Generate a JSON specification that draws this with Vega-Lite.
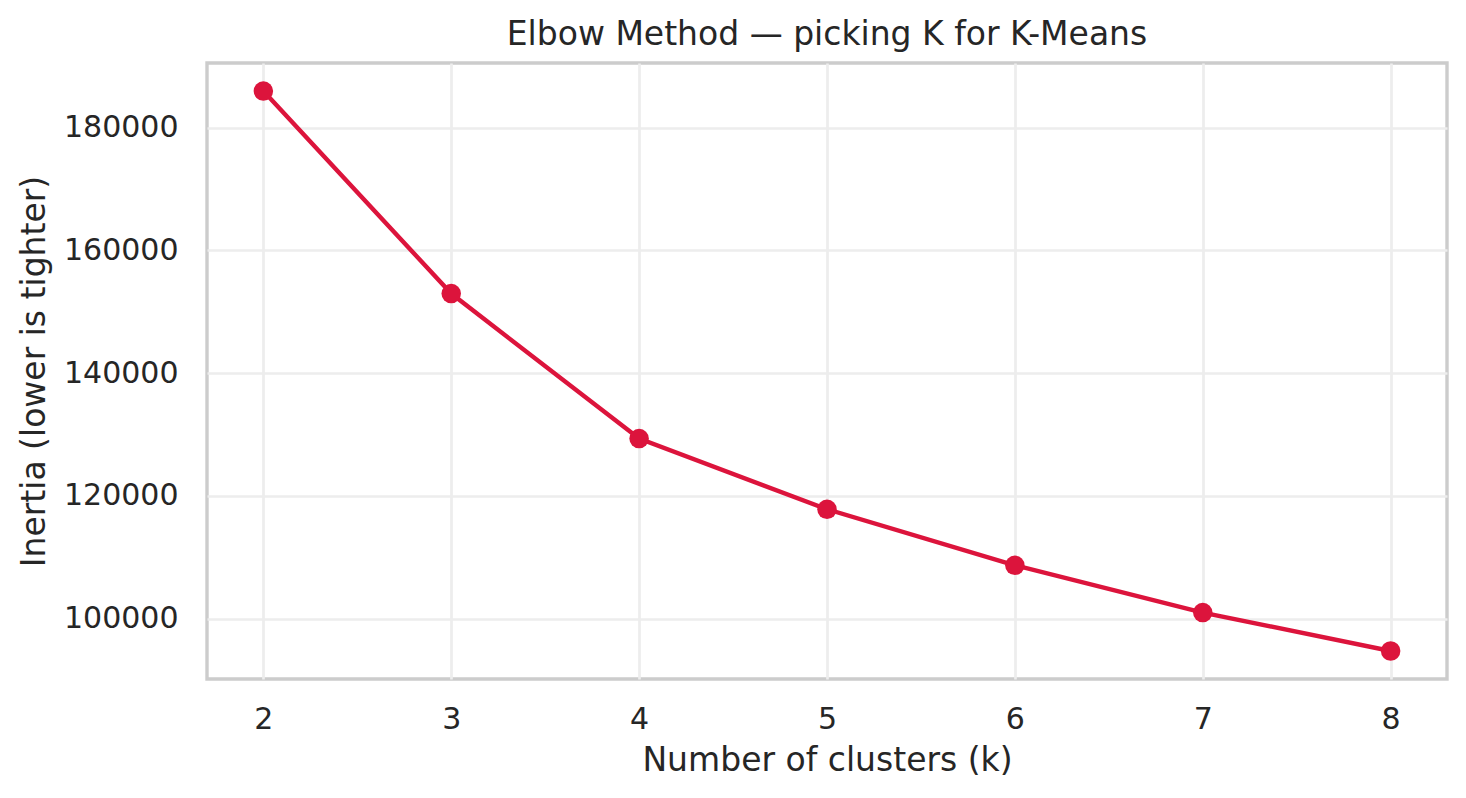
{
  "$schema": "https://vega.github.io/schema/vega-lite/v6.json",
  "width": 1240,
  "height": 616,
  "autosize": {"type": "none"},
  "padding": {"left": 207, "top": 63, "right": 19, "bottom": 119},
  "background": "white",
  "title": {
    "text": "Elbow Method — picking K for K-Means",
    "fontSize": 33,
    "fontWeight": "normal",
    "color": "#262626",
    "anchor": "middle",
    "baseline": "alphabetic",
    "offset": -15
  },
  "data": {
    "values": [
      {"k": 2, "inertia": 185960},
      {"k": 3, "inertia": 152950},
      {"k": 4, "inertia": 129330},
      {"k": 5, "inertia": 117810},
      {"k": 6, "inertia": 108680},
      {"k": 7, "inertia": 100980},
      {"k": 8, "inertia": 94720}
    ]
  },
  "encoding": {
    "x": {
      "field": "k",
      "type": "quantitative",
      "scale": {"domain": [1.7, 8.3], "nice": false, "zero": false},
      "axis": {
        "values": [2, 3, 4, 5, 6, 7, 8],
        "format": "d",
        "title": "Number of clusters (k)",
        "labelPadding": 25,
        "titlePadding": 10
      }
    },
    "y": {
      "field": "inertia",
      "type": "quantitative",
      "scale": {"domain": [90158, 190525], "nice": false, "zero": false},
      "axis": {
        "values": [100000, 120000, 140000, 160000, 180000],
        "format": "d",
        "title": "Inertia (lower is tighter)",
        "labelPadding": 29,
        "titlePadding": 12
      }
    }
  },
  "layer": [
    {"mark": {"type": "line", "color": "#DC143C", "strokeWidth": 4.4}},
    {"mark": {"type": "point", "filled": true, "color": "#DC143C", "opacity": 1, "size": 380}}
  ],
  "config": {
    "font": "DejaVu Sans",
    "view": {"stroke": "#cccccc", "strokeWidth": 3.4},
    "axis": {
      "domain": false,
      "ticks": false,
      "tickSize": 0,
      "grid": true,
      "gridColor": "#ededed",
      "gridWidth": 2.7,
      "labelFont": "DejaVu Sans",
      "labelFontSize": 30,
      "labelColor": "#262626",
      "titleFont": "DejaVu Sans",
      "titleFontSize": 33,
      "titleFontWeight": "normal",
      "titleColor": "#262626"
    }
  }
}
